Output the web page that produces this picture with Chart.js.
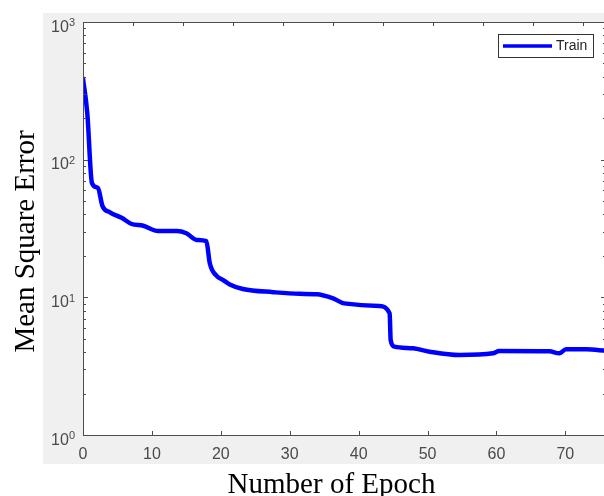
<!DOCTYPE html>
<html>
<head>
<meta charset="utf-8">
<script src="https://cdn.jsdelivr.net/npm/chart.js@4/dist/chart.umd.min.js"></script>
<style>
  html, body { margin: 0; padding: 0; background: #fff; overflow: hidden; }
  canvas { display: block; }
</style>
</head>
<body>
<canvas id="mychart" width="612" height="496"></canvas>
<script>
// values (epoch, mean square error)
const epochs = [0, 0.62, 1.3, 2.17, 2.83, 3.91, 5.6, 7.06, 8.74, 10.9, 13.6, 15.0, 16.5, 17.9,
    18.4, 19.4, 20.3, 21.3, 23.2, 27.6, 31.4, 33.9, 36.3, 37.9, 43.0, 44.5, 44.65, 45.2,
    47.9, 50.3, 54.6, 59.5, 60.4, 67.7, 69.1, 70.1, 73.0, 75.9];
const trainMse = [389, 218, 67.6, 62.2, 46.0, 41.4, 37.8, 34.1, 33.1, 30.3, 30.3, 29.2, 26.1, 25.6,
    17.7, 14.3, 13.4, 12.4, 11.5, 10.9, 10.6, 10.55, 9.84, 9.04, 8.64, 7.65, 4.9, 4.38,
    4.26, 4.03, 3.81, 3.92, 4.07, 4.05, 3.92, 4.19, 4.19, 4.09];

const seriesLabel = 'Train';
const xTickValues = [0, 10, 20, 30, 40, 50, 60, 70];
const yTickValues = [1, 10, 100, 1000];
const yTickBase = '10';
const yTickExponents = ['0', '1', '2', '3'];
// 위쪽 축 눈금은 아래 축과 간격이 다르다 (원본 그림 그대로)
const topTickStep = 7.25;
const xTitle = 'Number of Epoch';
const yTitle = 'Mean Square Error';

const axisColor = '#4d4d4d';
const tickLabelColor = '#4a4a4a';
const sansFamily = '"Liberation Sans", Arial, sans-serif';

// MATLAB 스타일 틀: 회색 배경, 상자, 안쪽 눈금, 제목, 범례
const matlabFrame = {
    id: 'matlabFrame',
    beforeDraw(chart) {
        const { ctx, chartArea: a, width } = chart;
        ctx.save();
        ctx.fillStyle = '#f0f0f0';
        ctx.fillRect(a.left - 40, a.top - 9, width - (a.left - 40), a.bottom - a.top + 38);
        ctx.fillStyle = '#ffffff';
        ctx.fillRect(a.left, a.top, a.right - a.left, a.bottom - a.top);
        ctx.restore();
    },
    afterDraw(chart) {
        const { ctx, chartArea: a, scales } = chart;
        const xs = scales.x;
        const ys = scales.y;

        ctx.save();
        ctx.strokeStyle = axisColor;
        ctx.lineWidth = 1;
        ctx.strokeRect(Math.round(a.left) + 0.5, Math.round(a.top) + 0.5,
            a.right - a.left, a.bottom - a.top);

        ctx.beginPath();
        // y 눈금: 10의 거듭제곱은 길게, 2..9 배는 짧게
        yTickValues.forEach((v, i) => {
            const py = Math.round(ys.getPixelForValue(v)) + 0.5;
            ctx.moveTo(a.left, py); ctx.lineTo(a.left + 5, py);
            ctx.moveTo(a.right, py); ctx.lineTo(a.right - 5, py);
            if (i < yTickValues.length - 1) {
                for (let m = 2; m <= 9; m += 1) {
                    const my = Math.round(ys.getPixelForValue(v * m)) + 0.5;
                    ctx.moveTo(a.left, my); ctx.lineTo(a.left + 3, my);
                    ctx.moveTo(a.right, my); ctx.lineTo(a.right - 3, my);
                }
            }
        });
        xTickValues.forEach((v) => {
            const px = Math.round(xs.getPixelForValue(v)) + 0.5;
            ctx.moveTo(px, a.bottom); ctx.lineTo(px, a.bottom - 4);
        });
        for (let v = topTickStep; v < xs.max; v += topTickStep) {
            const px = Math.round(xs.getPixelForValue(v)) + 0.5;
            ctx.moveTo(px, a.top); ctx.lineTo(px, a.top + 4);
        }
        ctx.stroke();

        // y 눈금 라벨: 10 + 위첨자 지수
        ctx.fillStyle = tickLabelColor;
        ctx.textBaseline = 'alphabetic';
        yTickValues.forEach((v, i) => {
            const py = ys.getPixelForValue(v);
            const exp = yTickExponents[i];
            ctx.font = `11px ${sansFamily}`;
            const ew = ctx.measureText(exp).width;
            const ex = a.left - 8 - ew;
            ctx.textAlign = 'left';
            ctx.fillText(exp, ex, py + 4.2);
            ctx.font = `16px ${sansFamily}`;
            ctx.textAlign = 'right';
            ctx.fillText(yTickBase, ex, py + 9.75);
        });

        // 축 제목
        ctx.fillStyle = '#000000';
        ctx.font = '29px "Liberation Serif", "Times New Roman", serif';
        ctx.textAlign = 'center';
        ctx.textBaseline = 'alphabetic';
        ctx.fillText(xTitle, (a.left + a.right) / 2 - 13, a.bottom + 58);
        ctx.translate(34, (a.top + a.bottom) / 2 + 13);
        ctx.rotate(-Math.PI / 2);
        ctx.fillText(yTitle, 0, 0);
        ctx.restore();

        // 범례
        const ds = chart.data.datasets[0];
        const bw = 95;
        const bh = 23;
        const lx = Math.round(a.right - 13 - bw);
        const ly = Math.round(a.top + 12);
        ctx.save();
        ctx.fillStyle = '#ffffff';
        ctx.fillRect(lx, ly, bw, bh);
        ctx.strokeStyle = '#333333';
        ctx.lineWidth = 1;
        ctx.strokeRect(lx + 0.5, ly + 0.5, bw, bh);
        ctx.strokeStyle = ds.borderColor;
        ctx.lineWidth = 3.5;
        ctx.beginPath();
        ctx.moveTo(lx + 5, ly + 12);
        ctx.lineTo(lx + 54, ly + 12);
        ctx.stroke();
        ctx.fillStyle = '#262626';
        ctx.font = `14px ${sansFamily}`;
        ctx.textAlign = 'left';
        ctx.textBaseline = 'middle';
        ctx.fillText(ds.label, lx + 58, ly + 12.5);
        ctx.restore();
    }
};

new Chart(document.getElementById('mychart'), {
    type: 'line',
    plugins: [matlabFrame],
    data: {
        datasets: [{
            label: seriesLabel,
            data: epochs.map((e, i) => ({ x: e, y: trainMse[i] })),
            borderColor: '#0000ff',
            backgroundColor: '#0000ff',
            borderWidth: 4.5,
            pointRadius: 0,
            pointHoverRadius: 0,
            cubicInterpolationMode: 'monotone',
            borderJoinStyle: 'round',
            borderCapStyle: 'round',
            fill: false
        }]
    },
    options: {
        responsive: false,
        maintainAspectRatio: false,
        animation: false,
        layout: { padding: { left: 0, top: 22, right: 6, bottom: 0 } },
        plugins: {
            legend: { display: false },
            tooltip: { enabled: false }
        },
        scales: {
            x: {
                type: 'linear',
                min: 0,
                max: 75.9,
                afterBuildTicks(scale) {
                    scale.ticks = xTickValues.map((v) => ({ value: v }));
                },
                afterFit(scale) { scale.height = 61; },
                grid: { display: false, drawTicks: false },
                border: { display: false },
                ticks: {
                    padding: 10,
                    maxRotation: 0,
                    color: tickLabelColor,
                    font: { family: sansFamily, size: 16 }
                }
            },
            y: {
                type: 'logarithmic',
                min: 1,
                max: 1000,
                afterBuildTicks(scale) {
                    scale.ticks = yTickValues.map((v) => ({ value: v }));
                },
                afterFit(scale) { scale.width = 83; },
                grid: { display: false, drawTicks: false },
                border: { display: false },
                // 라벨은 위첨자 때문에 플러그인에서 직접 그린다
                ticks: { display: false }
            }
        }
    }
});
</script>
</body>
</html>
